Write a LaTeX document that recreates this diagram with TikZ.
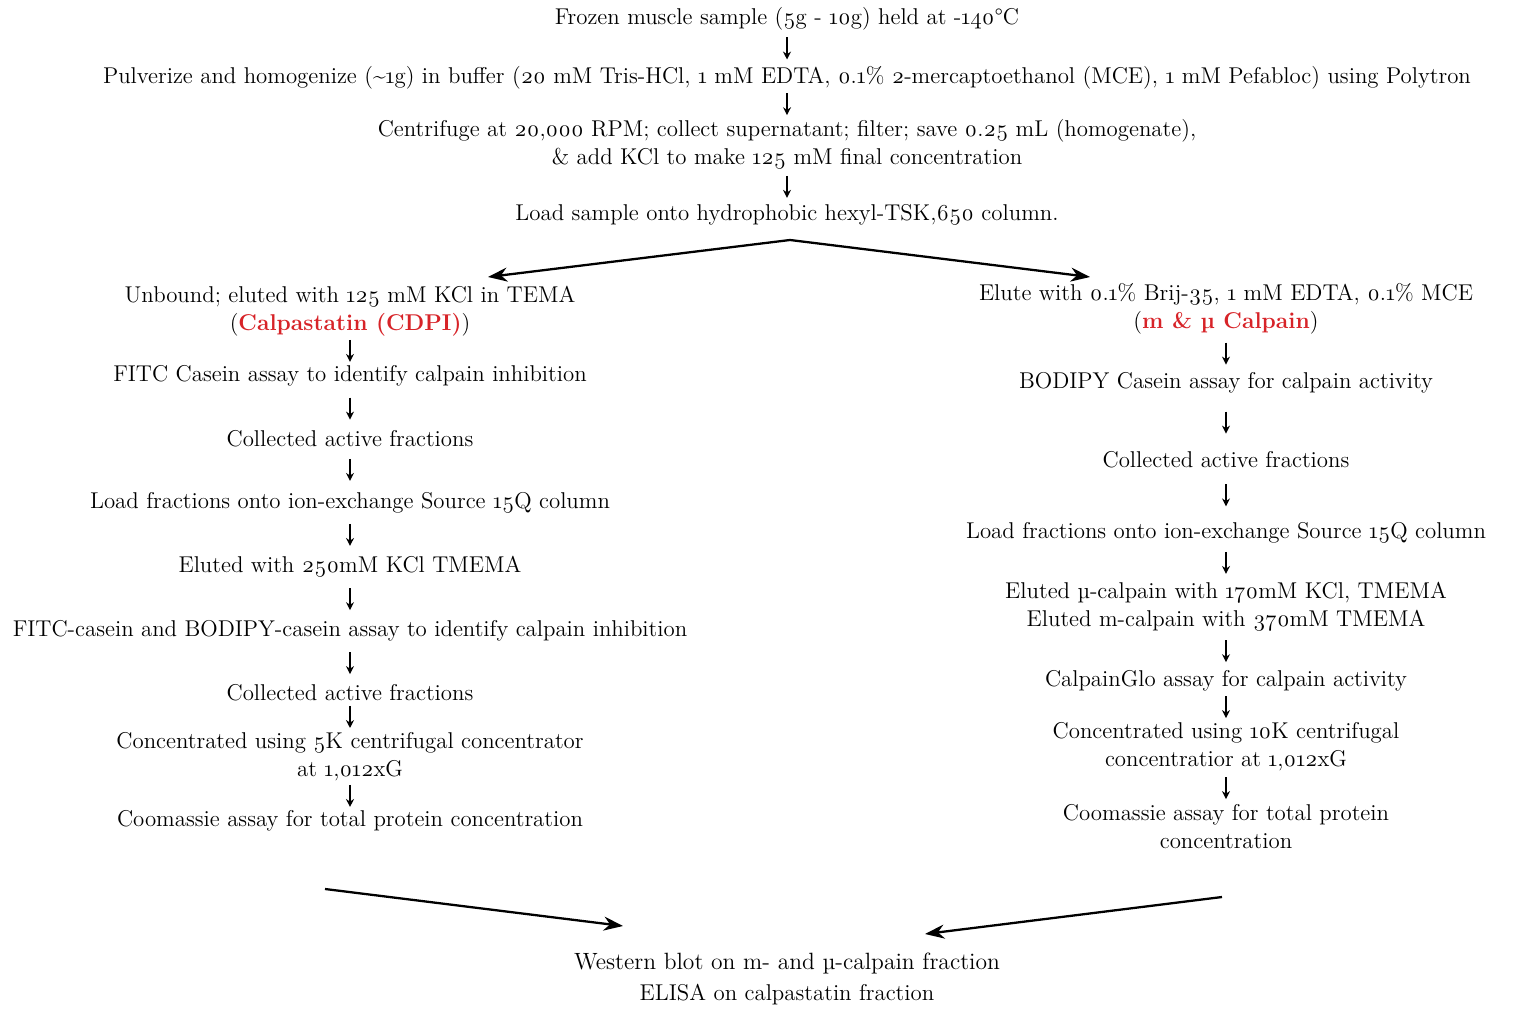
\documentclass[tikz,border=0pt]{standalone}
\usepackage{fontspec}
\setmainfont{Latin Modern Roman}[Numbers=OldStyle]
\usepackage{xcolor}
\usetikzlibrary{arrows.meta}
\usetikzlibrary{calc}
\definecolor{vermelho}{RGB}{215,35,40}
\newcommand{\realce}[1]{\textcolor{vermelho}{\textbf{#1}}}
\tikzset{
  passo/.style={align=center, inner sep=1pt, font=\fontsize{13}{16}\selectfont},
  seta/.style={-{Stealth[length=4.5pt,width=4.5pt]}, line width=0.8pt},
  setagrande/.style={-{Stealth[length=11pt,width=8pt]}, line width=1.3pt},
}
% seta curta no meio do intervalo entre dois passos
\newcommand{\flecha}[2]{\draw[seta] ($(#1.south)!0.5!(#2.north)+(0,-11)$) -- ($(#1.south)!0.5!(#2.north)+(0,11)$);}

\begin{document}
\begin{tikzpicture}[x=0.02cm, y=-0.02cm]
  \useasboundingbox (0,0) rectangle (1515,1010);
  % tronco comum
  \node[passo] (amostra) at (787,19) {Frozen muscle sample (5g - 10g) held at -140°C};
  \node[passo] (pulverizar) at (787,78) {Pulverize and homogenize (\textasciitilde1g) in buffer (20 mM Tris-HCl, 1 mM EDTA, 0.1\% 2-mercaptoethanol (MCE), 1 mM Pefabloc) using Polytron};
  \node[passo] (centrifugar) at (787,144) {Centrifuge at 20,000 RPM; collect supernatant; filter; save 0.25 mL (homogenate),\\ \& add KCl to make 125 mM final concentration};
  \node[passo] (coluna) at (787,215) {Load sample onto hydrophobic hexyl-TSK,650 column.};
  \flecha{amostra}{pulverizar}
  \flecha{pulverizar}{centrifugar}
  \flecha{centrifugar}{coluna}
  \coordinate (bifurca) at (790,240);
  \coordinate (esqtopo) at (488,277);
  \coordinate (dirtopo) at (1090,277);
  \draw[setagrande] (bifurca) -- (esqtopo);
  \draw[setagrande] (bifurca) -- (dirtopo);

  % ramo da calpastatina
  \node[passo] (livre) at (350,311) {Unbound; eluted with 125 mM KCl in TEMA\\(\realce{Calpastatin (CDPI)})};
  \node[passo] (fitc) at (350,376) {FITC Casein assay to identify calpain inhibition};
  \node[passo] (coletaA) at (350,439) {Collected active fractions};
  \node[passo] (trocaA) at (350,503) {Load fractions onto ion-exchange Source 15Q column};
  \node[passo] (eluidoA) at (350,567) {Eluted with 250mM KCl TMEMA};
  \node[passo] (ensaioA) at (350,631) {FITC-casein and BODIPY-casein assay to identify calpain inhibition};
  \node[passo] (coletaB) at (350,693) {Collected active fractions};
  \node[passo] (concA) at (350,757) {Concentrated using 5K centrifugal concentrator\\at 1,012xG};
  \node[passo] (coomA) at (350,821) {Coomassie assay for total protein concentration};
  \flecha{livre}{fitc}
  \flecha{fitc}{coletaA}
  \flecha{coletaA}{trocaA}
  \flecha{trocaA}{eluidoA}
  \flecha{eluidoA}{ensaioA}
  \flecha{ensaioA}{coletaB}
  \flecha{coletaB}{concA}
  \flecha{concA}{coomA}

  % ramo da calpaina
  \node[passo] (eluir) at (1226,309) {Elute with 0.1\% Brij-35, 1 mM EDTA, 0.1\% MCE\\(\realce{m \& µ Calpain})};
  \node[passo] (bodipy) at (1226,383) {BODIPY Casein assay for calpain activity};
  \node[passo] (coletaC) at (1226,460) {Collected active fractions};
  \node[passo] (trocaB) at (1226,533) {Load fractions onto ion-exchange Source 15Q column};
  \node[passo] (eluidoB) at (1226,607) {Eluted µ-calpain with 170mM KCl, TMEMA\\Eluted m-calpain with 370mM TMEMA};
  \node[passo] (glo) at (1226,681) {CalpainGlo assay for calpain activity};
  \node[passo] (concB) at (1226,747) {Concentrated using 10K centrifugal\\concentratior at 1,012xG};
  \node[passo] (coomB) at (1226,827) {Coomassie assay for total protein\\concentration};
  \flecha{eluir}{bodipy}
  \flecha{bodipy}{coletaC}
  \flecha{coletaC}{trocaB}
  \flecha{trocaB}{eluidoB}
  \flecha{eluidoB}{glo}
  \flecha{glo}{concB}
  \flecha{concB}{coomB}

  % juncao final
  \coordinate (esqbase) at (325,889);
  \coordinate (esqjunta) at (623,926);
  \coordinate (dirbase) at (1222,897);
  \coordinate (dirjunta) at (925,934);
  \draw[setagrande] (esqbase) -- (esqjunta);
  \draw[setagrande] (dirbase) -- (dirjunta);
  \node[passo, font=\fontsize{13.4}{16}\selectfont] (western) at (787,979) {Western blot on m- and µ-calpain fraction\\[2pt]{\fontsize{13}{16}\selectfont ELISA on calpastatin fraction}};
\end{tikzpicture}
\end{document}
